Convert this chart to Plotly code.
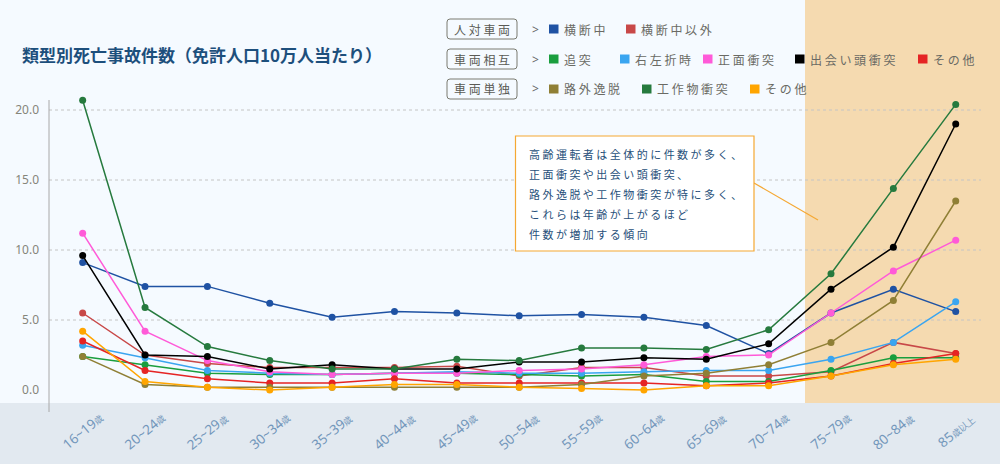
import plotly.graph_objects as go

W, H = 1000, 464
ML, MB = 49, 61
PW, PH = W - ML, H - MB


def px(x):
    return (x - ML) / PW


def py(y):
    return (PH - y) / PH


# ---------------- data ----------------
age_groups = ["16-19", "20-24", "25-29", "30-34", "35-39", "40-44", "45-49",
              "50-54", "55-59", "60-64", "65-69", "70-74", "75-79", "80-84", "85+"]
age_tick_text = ["16~19<span style='font-size:9px'>歳</span>",
                 "20~24<span style='font-size:9px'>歳</span>",
                 "25~29<span style='font-size:9px'>歳</span>",
                 "30~34<span style='font-size:9px'>歳</span>",
                 "35~39<span style='font-size:9px'>歳</span>",
                 "40~44<span style='font-size:9px'>歳</span>",
                 "45~49<span style='font-size:9px'>歳</span>",
                 "50~54<span style='font-size:9px'>歳</span>",
                 "55~59<span style='font-size:9px'>歳</span>",
                 "60~64<span style='font-size:9px'>歳</span>",
                 "65~69<span style='font-size:9px'>歳</span>",
                 "70~74<span style='font-size:9px'>歳</span>",
                 "75~79<span style='font-size:9px'>歳</span>",
                 "80~84<span style='font-size:9px'>歳</span>",
                 "85<span style='font-size:9px'>歳以上</span>"]
y_tick_vals = [0, 5, 10, 15, 20]
y_tick_text = ["0.0", "5.0", "10.0", "15.0", "20.0"]

crossing = [9.1, 7.4, 7.4, 6.2, 5.2, 5.6, 5.5, 5.3, 5.4, 5.2, 4.6, 2.6, 5.5, 7.2, 5.6]
other_than_crossing = [5.5, 2.5, 1.9, 1.6, 1.6, 1.6, 1.7, 1.0, 1.6, 1.6, 1.0, 1.0, 1.3, 3.4, 2.6]
rear_end = [2.4, 1.8, 1.2, 1.1, 1.1, 1.2, 1.2, 1.1, 1.0, 1.1, 0.6, 0.6, 1.4, 2.3, 2.3]
turning = [3.2, 2.3, 1.4, 1.2, 1.1, 1.2, 1.3, 1.2, 1.2, 1.3, 1.4, 1.4, 2.2, 3.4, 6.3]
head_on = [11.2, 4.2, 2.1, 1.3, 1.1, 1.2, 1.2, 1.4, 1.5, 1.8, 2.4, 2.5, 5.5, 8.5, 10.7]
crossing_collision = [9.6, 2.5, 2.4, 1.5, 1.8, 1.5, 1.5, 2.0, 2.0, 2.3, 2.2, 3.3, 7.2, 10.2, 19.0]
vehicle_other = [3.5, 1.4, 0.8, 0.5, 0.5, 0.8, 0.5, 0.5, 0.5, 0.5, 0.3, 0.5, 1.0, 1.9, 2.6]
road_departure = [2.4, 0.4, 0.2, 0.2, 0.2, 0.2, 0.2, 0.2, 0.4, 1.0, 1.2, 1.8, 3.4, 6.4, 13.5]
structure_collision = [20.7, 5.9, 3.1, 2.1, 1.5, 1.5, 2.2, 2.1, 3.0, 3.0, 2.9, 4.3, 8.3, 14.4, 20.4]
single_other = [4.2, 0.6, 0.2, 0.0, 0.2, 0.4, 0.4, 0.2, 0.1, 0.0, 0.3, 0.3, 1.0, 1.8, 2.2]

series_names = ["横断中", "横断中以外", "追突", "右左折時", "正面衝突", "出会い頭衝突",
                "その他", "路外逸脱", "工作物衝突", "その他"]
series_values = [crossing, other_than_crossing, rear_end, turning, head_on,
                 crossing_collision, vehicle_other, road_departure,
                 structure_collision, single_other]
series_colors = ["#1f52a3", "#c84848", "#1a9e3e", "#3aa5f0", "#ff5ad8", "#000000",
                 "#e52424", "#8f7f35", "#267a3e", "#ffa500"]

group_labels = ["人対車両", "車両相互", "車両単独"]

title_text = "類型別死亡事故件数（免許人口10万人当たり）"
note_lines = ["高齢運転者は全体的に件数が多く、",
              "正面衝突や出会い頭衝突、",
              "路外逸脱や工作物衝突が特に多く、",
              "これらは年齢が上がるほど",
              "件数が増加する傾向"]

# ---------------- style ----------------
JP = "Noto Sans CJK JP"
BG = "#f5faff"
BAND = "#e2e9f0"
ORANGE_BG = "#f5dab0"


def spaced(s):
    return " ".join(list(s))


fig = go.Figure()

for name, vals, col in zip(series_names, series_values, series_colors):
    fig.add_trace(go.Scatter(
        x=age_groups, y=vals, mode="lines+markers", name=name,
        line=dict(color=col, width=1.5),
        marker=dict(color=col, size=7),
        showlegend=False, hoverinfo="skip"))

shapes = []
# highlighted elderly region
shapes.append(dict(type="rect", xref="paper", yref="paper",
                   x0=px(805), x1=1, y0=0, y1=1,
                   fillcolor=ORANGE_BG, line=dict(width=0), layer="below"))
# bottom band
shapes.append(dict(type="rect", xref="paper", yref="paper",
                   x0=px(0), x1=1, y0=py(H), y1=0,
                   fillcolor=BAND, line=dict(width=0), layer="below"))
# grid lines
for v in y_tick_vals[1:]:
    shapes.append(dict(type="line", xref="paper", yref="y",
                       x0=0, x1=px(981), y0=v, y1=v,
                       line=dict(color="#c4c4c4", width=1, dash="dot"), layer="below"))
# y axis line
shapes.append(dict(type="line", xref="paper", yref="paper",
                   x0=0, x1=0, y0=py(100), y1=py(412),
                   line=dict(color="#a8a8a8", width=1)))

annotations = []
# title
annotations.append(dict(xref="paper", yref="paper", x=px(20), y=py(55),
                        xanchor="left", yanchor="middle", showarrow=False,
                        text="<b>" + title_text + "</b>",
                        font=dict(family=JP, size=17, color="#1d4f7c")))

# x tick labels
for cat, lab in zip(age_groups, age_tick_text):
    annotations.append(dict(xref="x", yref="paper", x=cat, y=py(431),
                            xanchor="center", yanchor="middle", showarrow=False,
                            textangle=-40, text=lab,
                            font=dict(family="Noto Sans", size=13.5, color="#7397bb")))


# legend
def rounded_rect(x0, y0, x1, y1, r):
    X = lambda v: px(v)
    Y = lambda v: py(v)
    return (f"M {X(x0 + r)} {Y(y0)} L {X(x1 - r)} {Y(y0)} "
            f"Q {X(x1)} {Y(y0)} {X(x1)} {Y(y0 + r)} L {X(x1)} {Y(y1 - r)} "
            f"Q {X(x1)} {Y(y1)} {X(x1 - r)} {Y(y1)} L {X(x0 + r)} {Y(y1)} "
            f"Q {X(x0)} {Y(y1)} {X(x0)} {Y(y1 - r)} L {X(x0)} {Y(y0 + r)} "
            f"Q {X(x0)} {Y(y0)} {X(x0 + r)} {Y(y0)} Z")


row_y = [29, 59, 89]
legend_rows = [[0, 1], [2, 3, 4, 5, 6], [7, 8, 9]]
square_x = {0: 549, 1: 626, 2: 549, 3: 620, 4: 703, 5: 795, 6: 918, 7: 549, 8: 642, 9: 750}
for gi, (glab, yc, idxs) in enumerate(zip(group_labels, row_y, legend_rows)):
    shapes.append(dict(type="path", xref="paper", yref="paper",
                       path=rounded_rect(447, yc - 10, 517, yc + 10, 3),
                       fillcolor="rgba(0,0,0,0)", line=dict(color="#7a7a70", width=1)))
    annotations.append(dict(xref="paper", yref="paper", x=px(482), y=py(yc),
                            xanchor="center", yanchor="middle", showarrow=False,
                            text=spaced(glab),
                            font=dict(family=JP, size=12, color="#5a5a55")))
    annotations.append(dict(xref="paper", yref="paper", x=px(535), y=py(yc),
                            xanchor="center", yanchor="middle", showarrow=False,
                            text="&gt;", font=dict(family="Noto Sans", size=12, color="#666")))
    for i in idxs:
        sx = square_x[i]
        shapes.append(dict(type="rect", xref="paper", yref="paper",
                           x0=px(sx), x1=px(sx + 9.5), y0=py(yc - 4.5), y1=py(yc + 4.5),
                           fillcolor=series_colors[i], line=dict(width=0)))
        annotations.append(dict(xref="paper", yref="paper", x=px(sx + 13), y=py(yc),
                                xanchor="left", yanchor="middle", showarrow=False,
                                text=spaced(series_names[i]),
                                font=dict(family=JP, size=12, color="#6a6a64")))

# note box
shapes.append(dict(type="line", xref="paper", yref="paper",
                   x0=px(754), x1=px(818), y0=py(183), y1=py(220),
                   line=dict(color="#f5a833", width=1.2)))
shapes.append(dict(type="rect", xref="paper", yref="paper",
                   x0=px(515.5), x1=px(754), y0=py(136), y1=py(251),
                   fillcolor="#ffffff", line=dict(color="#f5a833", width=1.2)))
for k, line in enumerate(note_lines):
    annotations.append(dict(xref="paper", yref="paper", x=px(527), y=py(154 + 20 * k),
                            xanchor="left", yanchor="middle", showarrow=False,
                            text=spaced(line),
                            font=dict(family=JP, size=11, color="#27507a")))

fig.update_layout(
    width=W, height=H,
    margin=dict(l=ML, r=0, t=0, b=MB, pad=0),
    paper_bgcolor=BG, plot_bgcolor=BG,
    shapes=shapes, annotations=annotations,
    xaxis=dict(type="category", range=[-0.54, 14.71], showgrid=False,
               zeroline=False, showline=False, showticklabels=False, ticks=""),
    yaxis=dict(range=[(390 - 403) / 14, 390 / 14], tickvals=y_tick_vals,
               ticktext=y_tick_text, showgrid=False, zeroline=False,
               showline=False, ticks="", ticklabelstandoff=9,
               tickfont=dict(family="Noto Sans", size=12, color="#85857a")),
    showlegend=False,
    hovermode=False,
)

fig.write_html("out.html",
               config={"displayModeBar": False, "staticPlot": True},
               post_script="document.body.style.margin='0';document.body.style.padding='0';"
                           "document.body.style.overflow='hidden';")
